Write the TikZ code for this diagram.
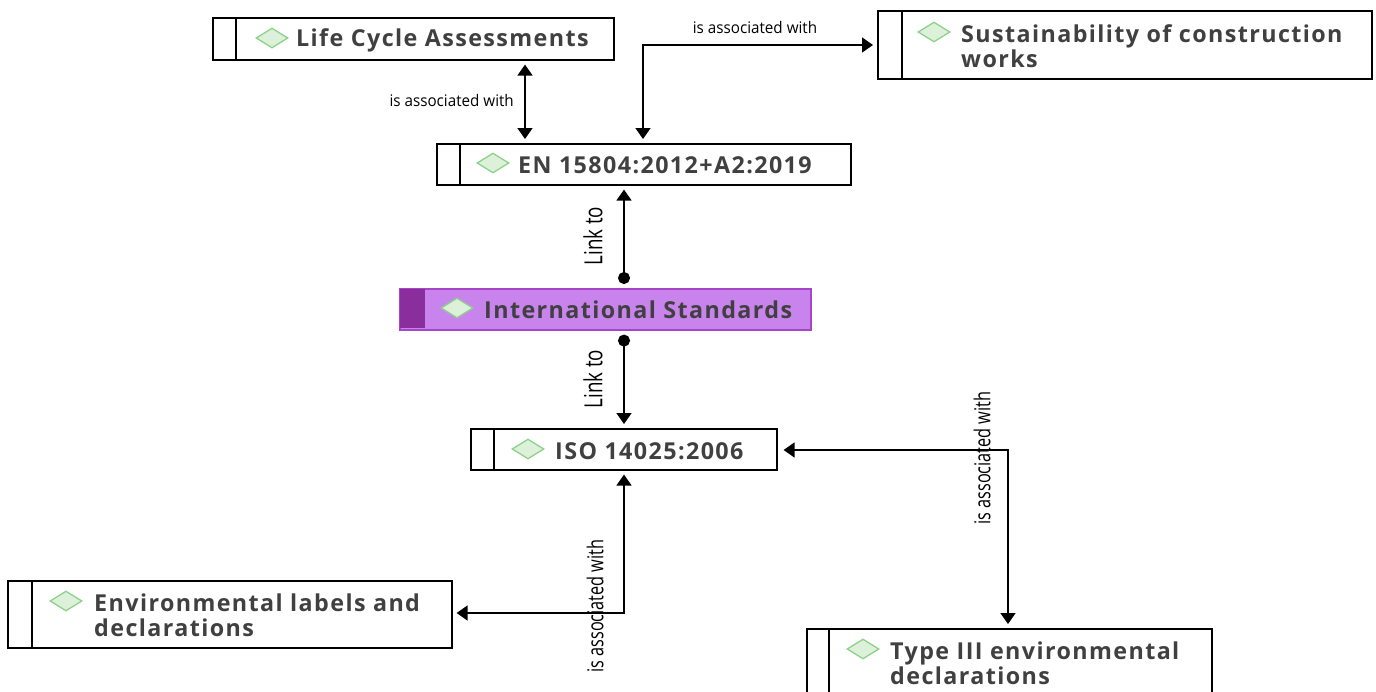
\documentclass[tikz,border=0pt]{standalone}
\usepackage{fontspec}
\setmainfont{Open Sans}
\newfontfamily\semib[LetterSpace=6]{Open Sans Bold}
\usetikzlibrary{arrows.meta,shapes.geometric}
\definecolor{txtc}{HTML}{404040}
\definecolor{diaf}{HTML}{DDF1DA}
\definecolor{diad}{HTML}{8ED28A}
\definecolor{purf}{HTML}{C883EC}
\definecolor{purd}{HTML}{8A2E9E}
\definecolor{purb}{HTML}{A646C6}
\newcommand{\lbl}[1]{\scalebox{0.95}[1]{\fontsize{16}{18}\selectfont #1}}
\newcommand{\lblv}[1]{\scalebox{0.74}[1]{\fontsize{22}{24}\selectfont #1}}
\newcommand{\lbll}[1]{\scalebox{0.75}[1]{\fontsize{25}{27}\selectfont #1}}
\begin{document}
\begin{tikzpicture}[x=1pt,y=-1pt,
  box/.style={draw=black, line width=1.6pt, fill=white, anchor=north west, inner sep=0pt},
  dia/.style={diamond, draw=diad, fill=diaf, line width=1.3pt, minimum width=32pt, minimum height=20pt, inner sep=0pt},
  txt/.style={anchor=west, text=txtc, font=\semib\fontsize{23.3}{25}\selectfont, inner sep=0pt, align=left},
  conn/.style={line width=1.6pt, draw=black},
  both/.style={{Triangle[width=15pt,length=11pt]}-{Triangle[width=15pt,length=11pt]}},
  dottip/.style={{Circle[length=12pt]}-{Triangle[width=15pt,length=11pt]}},
  lab/.style={text=black, inner sep=0pt}
]
\useasboundingbox (0,0) rectangle (1376,691);

% boxes
\node[box, minimum width=401pt, minimum height=42pt] (lca) at (212,17) {};
\draw[line width=1.6pt] (236,17) -- (236,59);
\node[dia] (dlca) at (272,38) {};
\node[txt] (tlca) at (296,40) {Life Cycle Assessments};

\node[box, minimum width=494pt, minimum height=68pt] (sus) at (877,10) {};
\draw[line width=1.6pt] (902,10) -- (902,78);
\node[dia] (dsus) at (934,32) {};
\node[txt] (tsus) at (961,46.5) {Sustainability of construction\\works};

\node[box, minimum width=414pt, minimum height=41pt] (en) at (436,143) {};
\draw[line width=1.6pt] (460,143) -- (460,184);
\node[dia] (den) at (493,163) {};
\node[txt] (ten) at (518,165) {EN 15804:2012+A2:2019};

\node[box, draw=purb, fill=purf, minimum width=411pt, minimum height=41pt] (int) at (399,288) {};
\fill[purd] (400,289) rectangle (425,328);
\node[dia] (dint) at (457,308) {};
\node[txt] (tint) at (484,310) {International Standards};

\node[box, minimum width=306pt, minimum height=41pt] (iso) at (470,428) {};
\draw[line width=1.6pt] (494,428) -- (494,469);
\node[dia] (diso) at (528,449) {};
\node[txt] (tiso) at (555,451) {ISO 14025:2006};

\node[box, minimum width=444pt, minimum height=67pt] (env) at (7,580) {};
\draw[line width=1.6pt] (32,580) -- (32,647);
\node[dia] (denv) at (66,601) {};
\node[txt] (tenv) at (94,615.5) {Environmental labels and\\declarations};

\node[box, minimum width=405pt, minimum height=75pt] (typ) at (806,628) {};
\draw[line width=1.6pt] (829,628) -- (829,703);
\node[dia] (dtyp) at (863,649) {};
\node[txt] (ttyp) at (890,663.5) {Type III environmental\\declarations};

% helper coordinates
\coordinate (xa) at (525,0);
\coordinate (xb) at (643,0);
\coordinate (xc) at (624,0);
\coordinate (xd) at (1008,0);
\coordinate (ya) at (0,45);
\coordinate (yb) at (0,613);
\coordinate (yc) at (0,450);

% LCA - EN
\draw[conn, both, shorten <=4pt, shorten >=4pt] (lca.south -| xa) -- (en.north -| xa);
\node[lab, anchor=east] (l1) at (514,100) {\lbl{is associated with}};

% EN - Sustainability
\coordinate (k1) at (xb |- ya);
\draw[conn, both, shorten <=4pt, shorten >=4pt] (en.north -| xb) -- (k1) -- (sus.west |- ya);
\node[lab] (l2) at (755,27) {\lbl{is associated with}};

% EN - International
\draw[conn, dottip, shorten <=4pt, shorten >=4pt] (int.north -| xc) -- (en.south -| xc);
\node[lab, rotate=90] (l3) at (593,236) {\lbll{Link to}};

% International - ISO
\draw[conn, dottip, shorten <=4pt, shorten >=4pt] (int.south -| xc) -- (iso.north -| xc);
\node[lab, rotate=90] (l4) at (593,379) {\lbll{Link to}};

% ISO - Env labels
\coordinate (k2) at (xc |- yb);
\draw[conn, both, shorten <=4pt, shorten >=4pt] (iso.south -| xc) -- (k2) -- (env.east |- yb);
\node[lab, rotate=90] (l5) at (595,606) {\lblv{is associated with}};

% ISO - Type III
\coordinate (k3) at (xd |- yc);
\draw[conn, both, shorten <=6pt, shorten >=4pt] (iso.east |- yc) -- (k3) -- (typ.north -| xd);
\node[lab, rotate=90] (l6) at (982,458) {\lblv{is associated with}};
\end{tikzpicture}
\end{document}
